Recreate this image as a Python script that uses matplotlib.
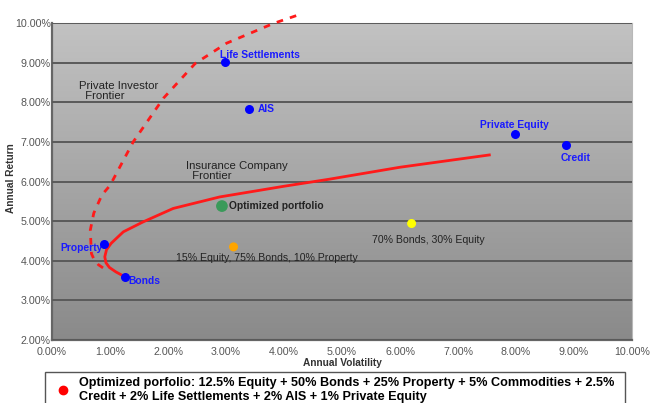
import numpy as np
import matplotlib
matplotlib.use('Agg')
import matplotlib.pyplot as plt
from matplotlib.lines import Line2D
from matplotlib.ticker import FuncFormatter, MultipleLocator

plt.rcParams['font.family'] = ['Liberation Sans', 'DejaVu Sans']

# asset classes (volatility %, return %)
asset_names = ['Life Settlements', 'AIS', 'Private Equity', 'Credit', 'Property', 'Bonds']
asset_vol = [2.98, 3.40, 7.98, 8.86, 0.89, 1.25]
asset_ret = [9.02, 7.82, 7.20, 6.92, 4.42, 3.60]

# portfolios
port_names = ['Optimized portfolio', '15% Equity, 75% Bonds, 10% Property', '70% Bonds, 30% Equity']
port_vol = [2.93, 3.13, 6.20]
port_ret = [5.38, 4.35, 4.94]
port_colors = ['#3a9a5a', '#ffa500', '#ffff00']
port_sizes = [55, 30, 30]

# insurance company frontier (solid)
ins_vol = [1.25, 1.10, 0.99, 0.93, 0.91, 0.94, 1.02, 1.23, 1.57, 2.09, 2.67, 2.89, 4.00, 4.79, 6.00, 7.54]
ins_ret = [3.60, 3.72, 3.83, 3.95, 4.10, 4.28, 4.44, 4.73, 4.98, 5.32, 5.53, 5.61, 5.88, 6.06, 6.36, 6.67]

# private investor frontier (dashed)
pri_vol = [0.88, 0.80, 0.72, 0.68, 0.66, 0.72, 0.86, 1.00, 1.40, 1.92, 2.47, 3.01, 3.82, 4.30]
pri_ret = [3.82, 3.90, 4.05, 4.18, 4.77, 5.20, 5.66, 5.90, 7.00, 8.10, 8.98, 9.49, 9.99, 10.23]

legend_text = ('Optimized porfolio: 12.5% Equity + 50% Bonds + 25% Property + 5% Commodities + 2.5%\n'
               'Credit + 2% Life Settlements + 2% AIS + 1% Private Equity')

fig = plt.figure(figsize=(6.52, 4.03), dpi=100)
ax = fig.add_axes([52 / 652, 63 / 403, 580 / 652, 317 / 403])
ax.set_xlim(0, 10)
ax.set_ylim(2, 10)

# grey gradient background
grad = np.linspace(0, 1, 256).reshape(-1, 1)
cmap = matplotlib.colors.LinearSegmentedColormap.from_list('g', ['#8a8a8a', '#c2c2c2'])
ax.imshow(grad, extent=[0, 10, 2, 10], aspect='auto', origin='lower', cmap=cmap, zorder=0)

ax.yaxis.set_major_locator(MultipleLocator(1))
ax.xaxis.set_major_locator(MultipleLocator(1))
ax.yaxis.grid(True, color='#5a5a5a', linewidth=1.4, zorder=1)
ax.set_axisbelow(False)
pct = FuncFormatter(lambda v, _: f'{v:.2f}%')
ax.xaxis.set_major_formatter(pct)
ax.yaxis.set_major_formatter(pct)
ax.tick_params(labelsize=7.7, colors='#666666', labelcolor='#555555', length=0, pad=1)
ax.tick_params(axis='x', pad=5)
for s in ['top', 'right']:
    ax.spines[s].set_color('#b8b8b8')
    ax.spines[s].set_linewidth(0.8)
for s in ['left', 'bottom']:
    ax.spines[s].set_color('#666666')
    ax.spines[s].set_linewidth(1.6)

ax.set_xlabel('Annual Volatility', fontsize=7.3, fontweight='bold', color='#333333', labelpad=1)
ax.set_ylabel('Annual Return', fontsize=7.3, fontweight='bold', color='#333333')
ax.yaxis.set_label_coords(-0.062, 0.51)

ax.plot(ins_vol, ins_ret, color='#ff1a1a', linewidth=2, zorder=3)
ax.plot(pri_vol, pri_ret, color='#ff1a1a', linewidth=2, linestyle=(0, (2.4, 2.6)),
        zorder=3, clip_on=False)

ax.scatter(asset_vol, asset_ret, s=30, color='#0000ff', zorder=4)
ax.scatter(port_vol, port_ret, s=port_sizes, c=port_colors, zorder=4)

blue = dict(color='#1a1aff', fontsize=7.4, fontweight='bold', va='center')
ax.text(2.90, 9.19, asset_names[0], ha='left', **blue)
ax.text(3.55, 7.83, asset_names[1], ha='left', **blue)
ax.text(7.97, 7.42, asset_names[2], ha='center', **blue)
ax.text(9.02, 6.59, asset_names[3], ha='center', **blue)
ax.text(0.87, 4.33, asset_names[4], ha='right', **blue)
ax.text(1.32, 3.49, asset_names[5], ha='left', **blue)

ax.text(3.05, 5.38, port_names[0], ha='left', va='center', fontsize=7.4,
        fontweight='bold', color='#222222')
ax.text(2.13, 4.06, port_names[1], ha='left', va='center', fontsize=7.6, color='#222222')
ax.text(5.52, 4.52, port_names[2], ha='left', va='center', fontsize=7.6, color='#222222')

ax.text(0.47, 8.29, 'Private Investor\n  Frontier', ha='left', va='center', fontsize=8.2,
        color='#222222', linespacing=0.95)
ax.text(2.31, 6.26, 'Insurance Company\n  Frontier', ha='left', va='center', fontsize=8.2,
        color='#222222', linespacing=0.95)

handle = Line2D([], [], marker='o', color='none', markerfacecolor='#ff0000',
                markeredgecolor='#ff0000', markersize=6)
fig.legend([handle], [legend_text], loc='upper left',
           bbox_to_anchor=(45 / 652, 1 - 372 / 403, 580 / 652, 0.0), mode='expand',
           borderaxespad=0, fancybox=False, edgecolor='#555555', framealpha=1,
           handletextpad=0.3, handlelength=2.0, prop={'size': 9.1, 'weight': 'bold'},
           borderpad=0.4, labelspacing=0.1)

fig.savefig('out.png', dpi=100)
